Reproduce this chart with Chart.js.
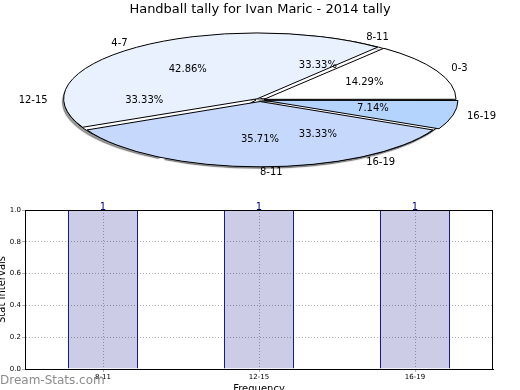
<!DOCTYPE html>
<html>
<head>
<meta charset="utf-8">
<script src="https://cdn.jsdelivr.net/npm/chart.js@4/dist/chart.umd.min.js"></script>
<style>
  body { margin: 0; background: #fff; width: 520px; height: 390px; overflow: hidden; position: relative; }
  canvas { position: absolute; left: 0; }
  #pieBack, #pieFront { top: 0; }
  #bars { top: 190px; }
  #mark { position: absolute; left: 0; top: 373px; font: 12px "DejaVu Sans", sans-serif; color: #8c8c8c; }
</style>
</head>
<body>
<canvas id="pieBack" width="520" height="190"></canvas>
<canvas id="pieFront" width="520" height="190"></canvas>
<canvas id="bars" width="520" height="200"></canvas>
<div id="mark">Dream-Stats.com</div>
<script>
const chartTitle = 'Handball tally for Ivan Maric - 2014 tally';

// first pie: goal ranges
const goalLabels = ['0-3', '4-7', '8-11', '16-19'];
const goalCounts = [2, 6, 5, 1];
const goalColors = ['#ffffff', '#eaf1fe', '#c6d9fd', '#b4d4fe'];

// second pie + bar chart: stat intervals
const intervalLabels = ['8-11', '12-15', '16-19'];
const intervalCounts = [1, 1, 1];

const yTicks = [0, 0.2, 0.4, 0.6, 0.8, 1.0];

const RADIUS = 191;
const SQUASH = 65 / 191;
const FONT = '"DejaVu Sans", sans-serif';

// draws the pie flattened into an ellipse, strokes kept at 1px
const squash = {
  id: 'squash',
  beforeDatasetDraw(chart, args, opts) {
    const ctx = chart.ctx;
    const a = args.meta.data[0];
    ctx.save();
    if (opts.shadow) {
      ctx.shadowColor = 'rgba(0,0,0,0.4)';
      ctx.shadowOffsetX = -2;
      ctx.shadowOffsetY = 2;
      ctx.shadowBlur = 1;
    }
    ctx.translate(a.x, a.y);
    ctx.scale(1, -SQUASH);
    ctx.translate(-a.x, -a.y);
    const base = CanvasRenderingContext2D.prototype.stroke;
    const dpr = chart.currentDevicePixelRatio;
    ctx.stroke = function () {
      this.save();
      this.setTransform(dpr, 0, 0, dpr, 0, 0);
      base.call(this);
      this.restore();
    };
  },
  afterDatasetDraw(chart) {
    delete chart.ctx.stroke;
    chart.ctx.restore();
  }
};

function drawPieLabels(ctx, chart, labels, values) {
  const total = values.reduce((s, v) => s + v, 0);
  chart.getDatasetMeta(0).data.forEach((arc, i) => {
    const mid = (arc.startAngle + arc.endAngle) / 2;
    const R = RADIUS + 2;
    const c = Math.cos(mid), s = Math.sin(mid);
    ctx.textBaseline = 'middle';
    ctx.textAlign = c > -1e-6 ? 'left' : 'right';
    ctx.fillText(labels[i], arc.x + 1.1 * R * c, arc.y - SQUASH * 1.1 * R * s);
    ctx.textAlign = 'center';
    ctx.fillText((values[i] / total * 100).toFixed(2) + '%', arc.x + 0.6 * R * c, arc.y - SQUASH * 0.6 * R * s);
  });
}

const pieOptions = (titleColor, shadow) => ({
  responsive: false,
  animation: false,
  events: [],
  radius: RADIUS,
  rotation: 90,
  layout: { padding: { top: 0, bottom: 8.6 } },
  plugins: {
    legend: { display: false },
    tooltip: { enabled: false },
    squash: { shadow },
    title: {
      display: true,
      text: chartTitle,
      color: titleColor,
      font: { family: FONT, size: 13, weight: 'normal' },
      padding: { top: 2, bottom: 1 }
    }
  }
});

const backPie = new Chart(document.getElementById('pieBack'), {
  type: 'pie',
  data: {
    labels: intervalLabels,
    datasets: [{
      data: intervalCounts,
      backgroundColor: '#ffffff',
      borderColor: '#000',
      borderWidth: 1,
      offset: 16,
      clip: false
    }]
  },
  options: pieOptions('rgba(0,0,0,0)', true),
  plugins: [squash]
});

new Chart(document.getElementById('pieFront'), {
  type: 'pie',
  data: {
    labels: goalLabels,
    datasets: [{
      data: goalCounts,
      backgroundColor: goalColors,
      borderColor: '#000',
      borderWidth: 1,
      offset: 18,
      clip: false
    }]
  },
  options: pieOptions('#000', false),
  plugins: [squash, {
    id: 'pieText',
    afterDraw(chart) {
      const ctx = chart.ctx;
      ctx.save();
      ctx.fillStyle = '#000';
      ctx.font = '10px ' + FONT;
      drawPieLabels(ctx, chart, goalLabels, goalCounts);
      drawPieLabels(ctx, backPie, intervalLabels, intervalCounts);
      ctx.restore();
    }
  }]
});

new Chart(document.getElementById('bars'), {
  type: 'bar',
  data: {
    labels: intervalLabels,
    datasets: [{
      data: intervalCounts,
      backgroundColor: 'rgba(0,0,128,0.2)',
      borderColor: '#000080',
      borderWidth: 1,
      barPercentage: 0.45,
      categoryPercentage: 1
    }]
  },
  options: {
    responsive: false,
    animation: false,
    events: [],
    layout: { padding: { top: 20, right: 27, left: 0, bottom: 0 } },
    plugins: { legend: { display: false }, tooltip: { enabled: false } },
    scales: {
      x: {
        offset: true,
        afterFit(scale) { scale.height = 21; },
        grid: { offset: false, color: '#b0b0b0', tickLength: 3 },
        border: { color: '#000', dash: [1, 2] },
        ticks: { color: '#000', padding: 1, font: { family: FONT, size: 7 } },
        title: { display: true, text: 'Frequency', color: '#000', font: { family: FONT, size: 10 }, padding: { top: 0, bottom: -5 } }
      },
      y: {
        min: 0,
        max: 1,
        afterFit(scale) { scale.width = 25; },
        afterBuildTicks(scale) { scale.ticks = yTicks.map(v => ({ value: v })); },
        grid: { color: '#b0b0b0', tickLength: 3 },
        border: { color: '#000', dash: [1, 2] },
        ticks: { color: '#000', padding: 1, font: { family: FONT, size: 7 }, callback: v => v.toFixed(1) },
        title: { display: true, text: 'Stat Intervals', color: '#000', font: { family: FONT, size: 10 }, padding: { top: -4, bottom: 0 } }
      }
    }
  },
  plugins: [{
    id: 'frameAndValues',
    afterDraw(chart) {
      const ctx = chart.ctx;
      const a = chart.chartArea;
      ctx.save();
      ctx.strokeStyle = '#000';
      ctx.lineWidth = 1;
      ctx.setLineDash([]);
      ctx.strokeRect(a.left + 0.5, a.top + 0.5, a.right - a.left - 1, a.bottom - a.top);
      ctx.fillStyle = '#000080';
      ctx.font = '10px ' + FONT;
      ctx.textAlign = 'center';
      ctx.textBaseline = 'bottom';
      chart.getDatasetMeta(0).data.forEach((bar, i) => {
        ctx.fillText(String(chart.data.datasets[0].data[i]), bar.x, bar.y + 2);
      });
      ctx.restore();
    }
  }]
});
</script>
</body>
</html>
